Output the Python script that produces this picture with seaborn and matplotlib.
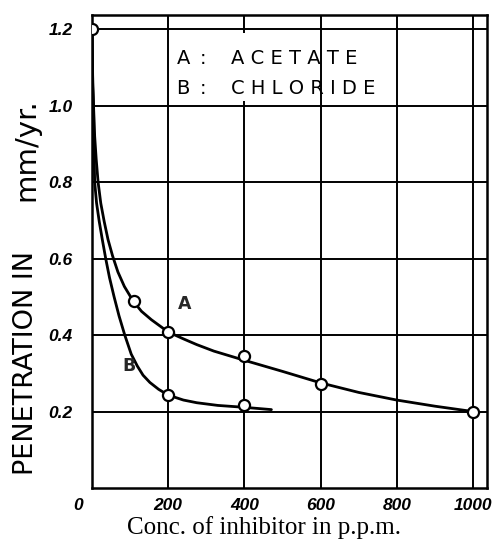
import matplotlib
matplotlib.use("Agg")
import matplotlib.pyplot as plt
import matplotlib.transforms as mtransforms
from matplotlib.patches import Rectangle
from matplotlib.font_manager import FontProperties
import seaborn as sns
import pandas as pd

# ---- data ----
x_ticks = [0, 200, 400, 600, 800, 1000]
x_tick_labels = ["0", "200", "400", "600", "800", "1000"]
y_ticks = [0.2, 0.4, 0.6, 0.8, 1.0, 1.2]
y_tick_labels = ["0.2", "0.4", "0.6", "0.8", "1.0", "1.2"]

# traced smooth curves
a_curve_x = [0, 2, 4, 7, 11, 16, 23, 32, 42, 54, 68, 85, 108, 130, 156, 200, 240, 275,
             320, 400, 500, 600, 700, 800, 900, 1000]
a_curve_y = [1.2, 1.06, 1.0, 0.92, 0.86, 0.8, 0.745, 0.697, 0.65, 0.607, 0.565, 0.527, 0.489,
             0.462, 0.44, 0.408, 0.39, 0.375, 0.358, 0.334, 0.305, 0.275, 0.25, 0.23, 0.214, 0.2]
b_curve_x = [0, 2, 4, 5, 7, 12, 19, 27, 36, 46, 58, 71, 86, 103, 119, 134, 152, 175, 200, 240,
             275, 330, 400, 471]
b_curve_y = [1.2, 1.05, 1.0, 0.9, 0.8, 0.745, 0.697, 0.65, 0.6, 0.55, 0.5, 0.45, 0.4, 0.35,
             0.319, 0.295, 0.276, 0.258, 0.243, 0.23, 0.223, 0.216, 0.211, 0.205]

# measured points (open circles)
a_pts_x = [0, 110, 200, 400, 600, 1000]
a_pts_y = [1.2, 0.489, 0.408, 0.345, 0.273, 0.2]
b_pts_x = [200, 400]
b_pts_y = [0.242, 0.216]

legend_lines = [("A", "A C E T A T E"), ("B", "C H L O R I D E")]

sns.set_theme(style="white")
plt.rcParams['font.family'] = ['DejaVu Sans']

W, H = 493, 547
fig = plt.figure(figsize=(W / 100, H / 100), dpi=100)
ax = fig.add_axes([92 / W, 1 - 488 / H, (487 - 92) / W, (488 - 15) / H])

curves = pd.concat([
    pd.DataFrame({"x": a_curve_x, "y": a_curve_y, "s": "A"}),
    pd.DataFrame({"x": b_curve_x, "y": b_curve_y, "s": "B"}),
])
pts = pd.concat([
    pd.DataFrame({"x": a_pts_x, "y": a_pts_y, "s": "A"}),
    pd.DataFrame({"x": b_pts_x, "y": b_pts_y, "s": "B"}),
])

sns.lineplot(data=curves, x="x", y="y", units="s", estimator=None, sort=False,
             color="black", lw=2.0, ax=ax, legend=False, zorder=3,
             solid_joinstyle="round", solid_capstyle="round")
sns.scatterplot(data=pts, x="x", y="y", marker="o", s=64, facecolor="white",
                edgecolor="black", linewidth=1.6, ax=ax, legend=False, zorder=5)

ax.set_xlim(0, 1037)
ax.set_ylim(0, 1.237)
ax.set_xticks(x_ticks)
ax.set_yticks(y_ticks)

tickfont = FontProperties(family="Liberation Sans", weight="bold", style="italic", size=12.5)
ax.set_xticklabels(x_tick_labels, fontproperties=tickfont)
ax.set_yticklabels(y_tick_labels, fontproperties=tickfont)
ax.tick_params(axis="x", length=0, pad=7, colors="black")
ax.tick_params(axis="y", length=0, pad=14, colors="black")
# "0" label sits left of the corner
lbl0 = ax.get_xticklabels()[0]
lbl0.set_transform(lbl0.get_transform() + mtransforms.ScaledTranslation(-14 / 100, 0, fig.dpi_scale_trans))

ax.grid(True, color="black", lw=1.4)
ax.set_axisbelow(True)
for sp in ax.spines.values():
    sp.set_color("black")
    sp.set_linewidth(1.8)
ax.set_xlabel("")
ax.set_ylabel("")

# white panel behind the key text
ax.add_patch(Rectangle((212, 1.012), 380, 0.178, facecolor="white", edgecolor="none", zorder=1.5))
keyfont = dict(family="DejaVu Sans", fontsize=14, color="black", va="center", zorder=4)
for i, (letter, name) in enumerate(legend_lines):
    yy = 1.124 - i * 0.078
    ax.text(239, yy, letter, ha="center", **keyfont)
    ax.text(291, yy, ":", ha="center", **keyfont)
    ax.text(365, yy, name, ha="left", **keyfont)

# curve labels
ax.text(244, 0.482, "A", ha="center", va="center", fontsize=12.5, fontweight="bold", zorder=4)
ax.text(97, 0.318, "B", ha="center", va="center", fontsize=12.5, fontweight="bold", zorder=4)

# axis titles
fig.text(26 / W, 1 - 363 / H, "PENETRATION IN", rotation=90, ha="center", va="center",
         fontsize=19.5, family="DejaVu Sans", color="black")
fig.text(26 / W, 1 - 150 / H, "mm/yr.", rotation=90, ha="center", va="center",
         fontsize=21, family="DejaVu Sans", color="black")
fig.text(264 / W, 1 - 528 / H, "Conc. of inhibitor in p.p.m.", ha="center", va="center",
         fontsize=18, family="Liberation Serif", color="black")

fig.savefig("out.png", dpi=100)
